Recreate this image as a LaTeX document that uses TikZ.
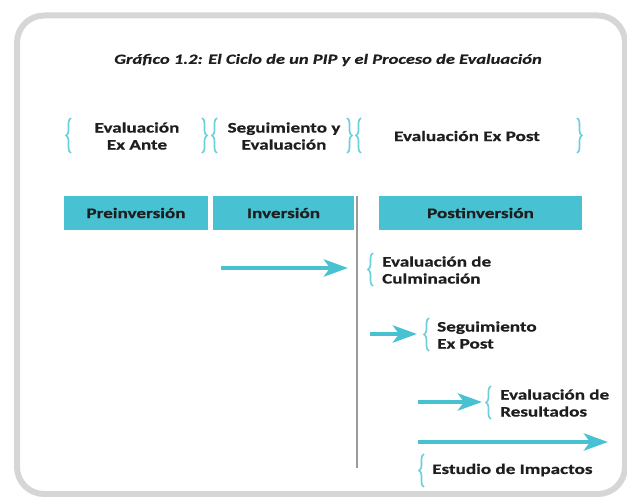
\documentclass[tikz,border=0pt]{standalone}
\usepackage{fontspec}
\setmainfont{Carlito}[FakeStretch=1.32, BoldFeatures={FakeBold=0.6}, BoldItalicFeatures={FakeBold=0.4}]
\usetikzlibrary{arrows.meta,decorations.pathreplacing}
\definecolor{teal1}{HTML}{48C2D3}
\definecolor{teallt}{HTML}{6CCFDB}
\definecolor{txt}{HTML}{1E1E1E}
\definecolor{frame}{HTML}{D6D6D6}
\definecolor{vline}{HTML}{9A9A9A}
\tikzset{
  lbl/.style={font=\bfseries\fontsize{14.5}{17}\selectfont, text=txt, align=center, inner sep=0pt},
  lbll/.style={lbl, align=left, anchor=west},
  phase/.style={fill=teal1, minimum height=34pt, font=\bfseries\fontsize{14.5}{17}\selectfont, text=txt, inner sep=0pt},
  brc/.style={draw=teallt, line width=1.6pt, decorate, decoration={brace, amplitude=5pt}},
  arr/.style={draw=teal1, line width=4.5pt, -{Stealth[length=24pt,width=17pt,inset=6pt]}}
}
\begin{document}
\begin{tikzpicture}[x=1pt,y=-1pt]
\useasboundingbox (0,0) rectangle (627,497);
\draw[line width=6pt, frame, rounded corners=27pt] (17,15.5) rectangle (625,494);
\node[font=\bfseries\itshape\fontsize{14}{16}\selectfont, text=txt] (title) at (328,60) {Gráfico 1.2: El Ciclo de un PIP y el Proceso de Evaluación};
% top row
\node[lbl] (exante) at (137,136) {Evaluación\\Ex Ante};
\node[lbl] (seg) at (284,136) {Seguimiento y\\Evaluación};
\node[lbl] (expost) at (467,136) {Evaluación Ex Post};
\draw[brc] (71,153) -- (71,118);
\draw[brc] (202,118) -- (202,153);
\draw[brc] (217,153) -- (217,118);
\draw[brc] (347,118) -- (347,153);
\draw[brc] (361,153) -- (361,118);
\draw[brc] (577,118) -- (577,153);
% phase boxes
\node[phase, minimum width=144pt] (pre) at (136,213) {Preinversión};
\node[phase, minimum width=141pt] (inv) at (283.5,213) {Inversión};
\node[phase, minimum width=203pt] (post) at (480.5,213) {Postinversión};
\coordinate (vtop) at (357,196);
\coordinate (vbot) at (357,468);
\draw[vline, line width=1.8pt] (vtop) -- (vbot);
% lower labels
\node[lbll] (culm) at (382,270) {Evaluación de\\Culminación};
\draw[brc] (373,286) -- (373,253);
\node[lbll] (segp) at (437,335) {Seguimiento\\Ex Post};
\draw[brc] (429,351) -- (429,318);
\node[lbll] (res) at (500,403) {Evaluación de\\Resultados};
\draw[brc] (491,419) -- (491,386);
\node[lbll] (imp) at (432,470) {Estudio de Impactos};
\draw[brc] (424,487) -- (424,454);
% arrows
\coordinate (a1s) at (221,268); \coordinate (a1e) at (348,268);
\coordinate (a2s) at (370,334); \coordinate (a2e) at (417,334);
\coordinate (a3s) at (418,402); \coordinate (a3e) at (482,402);
\coordinate (a4s) at (418,442); \coordinate (a4e) at (608,442);
\draw[arr] (a1s) -- (a1e);
\draw[arr] (a2s) -- (a2e);
\draw[arr] (a3s) -- (a3e);
\draw[arr] (a4s) -- (a4e);
\end{tikzpicture}
\end{document}
